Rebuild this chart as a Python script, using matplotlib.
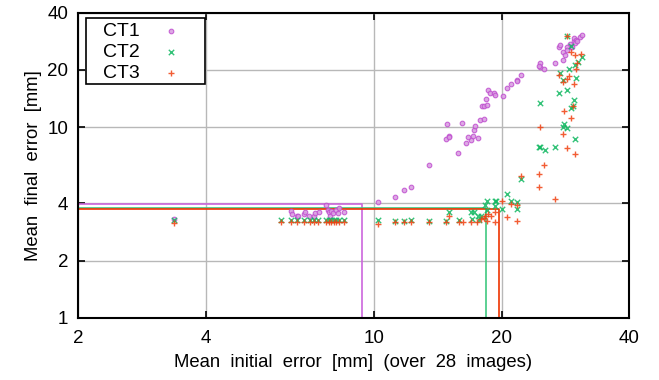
import matplotlib
matplotlib.use("Agg")
import matplotlib.pyplot as plt
from matplotlib.patches import Rectangle
from matplotlib.ticker import FixedLocator, FixedFormatter, NullLocator

plt.rcParams['font.family'] = ['Liberation Sans', 'DejaVu Sans']

# ---------------- data ----------------
ct1_x = [3.37,
         6.38, 6.40, 6.59, 6.63, 6.83, 6.88, 7.03, 7.21, 7.24, 7.40,
         7.71, 7.78, 7.82, 7.85, 7.92, 7.99, 8.11, 8.21, 8.28, 8.51,
         10.2, 11.2, 11.8, 12.2, 13.5, 15.8, 14.8, 15.0, 15.0, 14.9,
         16.1, 16.5, 16.9, 16.7, 17.1, 17.6, 17.2, 17.3, 17.8, 18.2,
         18.0, 18.2, 18.5, 18.4, 18.6, 18.8, 19.2, 19.3, 20.2, 20.6,
         21.0, 21.8, 21.8, 22.2,
         24.6, 24.6, 24.5, 25.2, 26.8, 27.4, 27.5, 28.0, 28.3, 28.0,
         29.0, 29.1, 29.6, 29.7, 30.0, 29.9, 30.2, 30.7, 30.9, 29.4,
         28.6, 28.5]
ct1_y = [3.31,
         3.64, 3.51, 3.43, 3.43, 3.51, 3.61, 3.43, 3.41, 3.54, 3.61,
         3.90, 3.69, 3.59, 3.44, 3.66, 3.54, 3.69, 3.54, 3.77, 3.61,
         4.05, 4.33, 4.71, 4.89, 6.33, 7.34, 8.73, 9.01, 8.91, 10.45,
         10.55, 8.31, 8.55, 8.91, 9.01, 8.83, 9.69, 10.2, 10.97, 11.07,
         13.0, 13.0, 13.06, 14.1, 15.8, 15.1, 15.1, 14.8, 14.66, 16.1,
         16.8, 17.7, 17.5, 18.75,
         21.7, 20.8, 21.0, 20.3, 21.8, 26.5, 27.0, 24.8, 24.0, 22.7,
         27.4, 26.5, 28.5, 29.3, 28.7, 27.6, 28.5, 29.7, 30.4, 26.5,
         26.5, 25.5]

ct2_x = [3.37,
         6.04, 6.38, 6.59, 6.83, 7.05, 7.21, 7.38, 7.71, 7.82, 7.92,
         8.05, 8.15, 8.28, 8.51,
         10.2, 11.2, 11.8, 12.2, 13.5, 14.8, 15.0, 15.9, 16.9, 17.2,
         17.0, 17.6, 17.9, 17.7, 18.5, 18.3, 18.5, 19.3, 19.3, 19.4,
         20.1, 20.6, 21.0, 21.8, 21.8, 22.2,
         28.5, 29.1, 30.9, 30.3, 29.9, 28.9, 27.5, 30.0, 28.0, 28.5,
         27.4, 29.6, 29.2, 29.5, 24.7, 28.1, 28.0, 28.5, 29.9, 24.5,
         24.6, 25.3, 26.8]
ct2_y = [3.25,
         3.25, 3.25, 3.25, 3.25, 3.25, 3.25, 3.25, 3.25, 3.25, 3.25,
         3.25, 3.25, 3.25, 3.25,
         3.28, 3.24, 3.24, 3.28, 3.24, 3.24, 3.61, 3.25, 3.59, 3.59,
         3.29, 3.44, 3.42, 3.27, 4.11, 3.92, 3.69, 4.11, 3.88, 4.13,
         3.73, 4.46, 4.13, 4.08, 3.73, 5.35,
         30.3, 26.7, 23.3, 22.0, 21.2, 20.2, 19.4, 18.2, 17.7, 15.7,
         15.2, 13.9, 12.7, 12.9, 13.5, 10.4, 10.1, 9.96, 8.64, 7.93,
         7.90, 7.59, 7.93]

ct3_x = [3.37,
         6.04, 6.38, 6.59, 6.83, 7.05, 7.21, 7.38, 7.71, 7.82, 7.92,
         8.05, 8.15, 8.28, 8.51,
         10.2, 11.2, 11.8, 12.2, 13.5, 14.8, 15.0, 15.9, 16.2, 16.9,
         17.5, 17.9, 18.2, 18.3, 18.6, 18.9, 19.3, 19.3, 18.5, 20.1,
         21.0, 21.8, 20.6, 21.8,
         28.5, 29.8, 30.8, 30.2, 30.0, 29.1, 27.4, 28.6, 28.0, 29.6,
         28.9, 29.5, 28.1, 29.2, 24.6, 27.9, 28.5, 29.8, 25.2, 24.5,
         22.2, 24.5, 26.8]
ct3_y = [3.16,
         3.17, 3.17, 3.17, 3.17, 3.17, 3.17, 3.17, 3.17, 3.17, 3.17,
         3.17, 3.17, 3.17, 3.17,
         3.12, 3.18, 3.18, 3.18, 3.18, 3.18, 3.44, 3.18, 3.20, 3.18,
         3.20, 3.29, 3.33, 3.44, 3.52, 3.43, 3.61, 3.20, 3.24, 4.13,
         3.95, 3.92, 3.37, 3.24,
         30.3, 23.9, 24.3, 21.7, 20.2, 24.9, 18.8, 17.9, 17.2, 16.8,
         18.6, 12.9, 12.2, 11.2, 10.1, 9.24, 7.83, 7.23, 6.35, 5.72,
         5.56, 4.85, 4.20]

# threshold lines (per method)
thr_x = [9.36, 18.35, 19.72]
thr_y = [3.97, 3.78, 3.74]

series_names = ["CT1", "CT2", "CT3"]
x_ticks = [2, 4, 10, 20, 40]
y_ticks = [1, 2, 4, 10, 20, 40]

# ---------------- plot ----------------
fig = plt.figure(figsize=(6.59, 3.80), dpi=100)
ax = fig.add_axes([0.1184, 0.1632, 0.8361, 0.8036])
ax.set_xscale('log')
ax.set_yscale('log')
ax.set_xlim(2, 40)
ax.set_ylim(1, 40)

col1, col2, col3 = "#c050d0", "#10b860", "#f04010"
lcol1, lcol2, lcol3 = "#cc66dd", "#40c880", "#ee3300"

for xv, yv, c in zip(thr_x, thr_y, [lcol1, lcol2, lcol3]):
    ax.plot([2, xv, xv], [yv, yv, 1], color=c, lw=1.2, zorder=2)

ax.scatter(ct1_x, ct1_y, marker='o', s=11, facecolors='#d89ae0',
           edgecolors=col1, linewidths=0.8, alpha=0.85, label=series_names[0], zorder=3)
ax.scatter(ct2_x, ct2_y, marker='x', s=15, color=col2, linewidths=1.0,
           alpha=0.85, label=series_names[1], zorder=3)
ax.scatter(ct3_x, ct3_y, marker='+', s=24, color=col3, linewidths=1.0,
           alpha=0.85, label=series_names[2], zorder=3)

ax.xaxis.set_major_locator(FixedLocator(x_ticks))
ax.xaxis.set_major_formatter(FixedFormatter([str(v) for v in x_ticks]))
ax.xaxis.set_minor_locator(NullLocator())
ax.yaxis.set_major_locator(FixedLocator(y_ticks))
ax.yaxis.set_major_formatter(FixedFormatter([str(v) for v in y_ticks]))
ax.yaxis.set_minor_locator(NullLocator())

ax.grid(True, which='major', color='#b8b8b8', lw=1.0, zorder=0)
ax.set_axisbelow(True)
ax.tick_params(direction='in', length=5, width=1.2, top=True, right=True,
               labelsize=13.5, colors='black')
ax.tick_params(axis='x', pad=9)
ax.tick_params(axis='y', pad=7)
for sp in ax.spines.values():
    sp.set_linewidth(1.5)

ax.set_xlabel("Mean  initial  error  [mm]  (over  28  images)", fontsize=13.3, labelpad=5)
ax.set_ylabel("Mean  final  error  [mm]", fontsize=13.3, labelpad=4)

# legend box (gnuplot-style key)
ax.add_patch(Rectangle((0.0145, 0.766), 0.216, 0.216, transform=ax.transAxes,
                       facecolor='white', edgecolor='black', lw=1.2, zorder=4,
                       clip_on=False))
leg = ax.legend(loc='upper left', bbox_to_anchor=(0.0448, 0.968), markerfirst=False,
                fontsize=14, frameon=False, handlelength=1.0, handletextpad=1.13,
                borderpad=0.0, labelspacing=0.17, borderaxespad=0.0)
leg.set_zorder(5)

fig.savefig("out.png", dpi=100)
